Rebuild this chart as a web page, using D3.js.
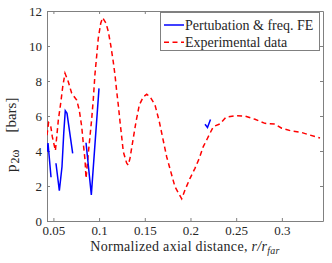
<!DOCTYPE html>
<html><head><meta charset="utf-8">
<script src="https://cdn.jsdelivr.net/npm/d3@7"></script>
<style>body{margin:0;background:#fff}svg{display:block}text{font-family:"Liberation Serif","DejaVu Serif",serif;fill:#262626}</style>
</head><body><svg id="c" width="332" height="263"></svg>
<script>
const xTicks = [0.05, 0.1, 0.15, 0.2, 0.25, 0.3];
const xTickLabels = ["0.05", "0.1", "0.15", "0.2", "0.25", "0.3"];
const yTicks = [0, 2, 4, 6, 8, 10, 12];
const seriesNames = ["Pertubation & freq. FE", "Experimental data"];

// FE segments (separate pieces)
const fe1X = [0.0430, 0.0441, 0.0474];
const fe1Y = [3.95, 4.45, 2.50];
const fe2X = [0.0528, 0.0565, 0.0594, 0.0613, 0.0630, 0.0649, 0.0685, 0.0711];
const fe2Y = [3.30, 1.73, 3.10, 5.00, 6.30, 6.15, 4.82, 3.87];
const fe3X = [0.0857, 0.0915, 0.0999];
const fe3Y = [4.47, 1.49, 7.58];
const fe4X = [0.2159, 0.2186, 0.2219];
const fe4Y = [5.53, 5.34, 5.80];

const expX = [0.0430, 0.0447, 0.0470, 0.0488, 0.0522, 0.0554, 0.0580, 0.0602, 0.0627, 0.0663, 0.0700, 0.0755, 0.0783, 0.0810, 0.0827, 0.0846, 0.0857,
  0.0882, 0.0900, 0.0918, 0.0936, 0.0955, 0.0973, 0.0991, 0.1018, 0.1039, 0.1076, 0.1101, 0.1127, 0.1155, 0.1174, 0.1193, 0.1210, 0.1229, 0.1247, 0.1265,
  0.1302, 0.1319, 0.1338, 0.1374, 0.1404, 0.1440, 0.1484, 0.1521, 0.1557, 0.1612, 0.1659, 0.1740, 0.1830, 0.1904, 0.1940, 0.1995, 0.2049, 0.2096,
  0.2140, 0.2177, 0.2213, 0.2250, 0.2323, 0.2388, 0.2487, 0.2596, 0.2706, 0.2815, 0.2924, 0.2998, 0.3107, 0.3209, 0.3307, 0.3417];
const expY = [4.90, 5.62, 5.45, 4.82, 4.02, 5.77, 6.73, 7.67, 8.44, 7.96, 7.30, 6.91, 6.34, 5.39, 4.44, 3.49, 2.44,
  3.87, 4.82, 5.77, 6.91, 8.40, 9.40, 10.44, 11.30, 11.62, 11.30, 10.82, 10.06, 9.10, 8.34, 7.39, 6.63, 5.67, 4.82, 3.96,
  3.30, 3.20, 3.58, 4.73, 5.67, 6.63, 7.10, 7.24, 7.10, 6.63, 5.67, 3.66, 1.96, 1.27, 1.77, 2.44, 3.01, 3.58,
  4.25, 4.63, 5.01, 5.39, 5.55, 5.93, 6.02, 6.00, 5.81, 5.58, 5.54, 5.30, 5.14, 5.07, 4.91, 4.74];

const svg = d3.select("#c");
const L = 47, R = 323, T = 11, B = 221;
const x = d3.scaleLinear().domain([0.043, 0.345]).range([L, R]);
const y = d3.scaleLinear().domain([0, 12]).range([B, T]);
const axCol = "#808080";

svg.append("clipPath").attr("id", "clip").append("rect").attr("x", L).attr("y", T).attr("width", R - L).attr("height", B - T);

const gx = svg.append("g").attr("transform", `translate(0,${B})`)
  .call(d3.axisBottom(x).tickValues(xTicks).tickFormat((d, i) => xTickLabels[i]).tickSizeInner(-3).tickSizeOuter(0).tickPadding(5));
const gxt = svg.append("g").attr("transform", `translate(0,${T})`)
  .call(d3.axisTop(x).tickValues(xTicks).tickFormat("").tickSizeInner(-3).tickSizeOuter(0));
const gy = svg.append("g").attr("transform", `translate(${L},0)`)
  .call(d3.axisLeft(y).tickValues(yTicks).tickSizeInner(-3).tickSizeOuter(0).tickPadding(5));
const gyr = svg.append("g").attr("transform", `translate(${R},0)`)
  .call(d3.axisRight(y).tickValues(yTicks).tickFormat("").tickSizeInner(-3).tickSizeOuter(0));
[gx, gxt, gy, gyr].forEach(g => {
  g.select(".domain").attr("stroke", axCol);
  g.selectAll(".tick line").attr("stroke", axCol);
  g.selectAll("text").attr("font-size", 13).attr("fill", "#262626").attr("font-family", '"Liberation Serif", serif');
});

const line = d3.line().x(d => x(d[0])).y(d => y(d[1]));
const plot = svg.append("g").attr("clip-path", "url(#clip)");
plot.append("path").datum(d3.zip(expX, expY)).attr("d", line)
  .attr("fill", "none").attr("stroke", "#ff0000").attr("stroke-width", 1.5).attr("stroke-dasharray", "5,3.5");
[[fe1X, fe1Y], [fe2X, fe2Y], [fe3X, fe3Y], [fe4X, fe4Y]].forEach(([xs, ys]) => {
  plot.append("path").datum(d3.zip(xs, ys)).attr("d", line)
    .attr("fill", "none").attr("stroke", "#0000ff").attr("stroke-width", 1.5);
});

// legend
const lg = svg.append("g");
lg.append("rect").attr("x", 160.5).attr("y", 12.5).attr("width", 159).attr("height", 38)
  .attr("fill", "#fff").attr("stroke", axCol);
const legStyles = [{c: "#0000ff", d: null}, {c: "#ff0000", d: "5,3.5"}];
seriesNames.forEach((n, i) => {
  const yy = 25 + i * 17.3;
  lg.append("line").attr("x1", 164).attr("x2", 184).attr("y1", yy).attr("y2", yy)
    .attr("stroke", legStyles[i].c).attr("stroke-width", 1.5).attr("stroke-dasharray", legStyles[i].d);
  lg.append("text").attr("x", 185).attr("y", yy + 5).attr("font-size", 14).text(n);
});

// x label
const xl = svg.append("text").attr("x", (L + R) / 2).attr("y", 251).attr("text-anchor", "middle")
  .attr("font-size", 14).attr("letter-spacing", 0.3);
xl.append("tspan").text("Normalized axial distance, ");
xl.append("tspan").attr("font-style", "italic").text("r/r");
xl.append("tspan").attr("font-style", "italic").attr("font-size", 10).attr("dy", 3).text("far");

// y label
const yl = svg.append("text").attr("transform", "translate(16,172) rotate(-90)").attr("text-anchor", "start").attr("font-size", 15);
yl.append("tspan").text("p");
yl.append("tspan").attr("font-size", 12).attr("dx", 1).attr("dy", 3).text("2ω");
yl.append("tspan").attr("dx", 17).attr("dy", -3).text("[bars]");
</script></body></html>
